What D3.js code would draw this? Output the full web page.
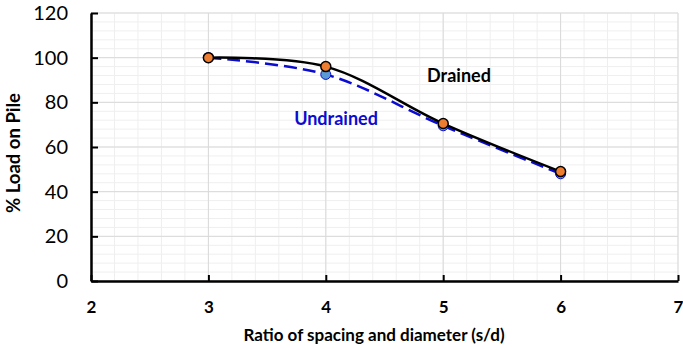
<!DOCTYPE html>
<html lang="en">
<head>
    <meta charset="UTF-8">
    <title>% Load on Pile vs s/d</title>
    <style>
        body { margin: 0; padding: 0; background: #ffffff; }
        svg { display: block; font-family: Lato, "Open Sans", sans-serif; }
    </style>
</head>
<body>
    <svg width="683" height="350"></svg>
    <script src="https://d3js.org/d3.v7.min.js"></script>
    <script>
        // data
        let ratio = [3, 4, 5, 6];
        let drained = [100, 96, 70.5, 49];
        let undrained = [100, 92.5, 69.5, 48];
        let xTicks = [2, 3, 4, 5, 6, 7];
        let yTicks = [0, 20, 40, 60, 80, 100, 120];

        let svg = d3.select("svg");
        let plotLeft = 91, plotRight = 678, plotTop = 13, plotBottom = 281;

        let x = d3.scaleLinear().domain([2, 7]).range([plotLeft, plotRight]);
        let y = d3.scaleLinear().domain([0, 120]).range([plotBottom, plotTop]);

        // minor grid
        let grid = svg.append("g");
        grid.selectAll("line.mx")
            .data(d3.range(2, 7.001, 0.2))
            .enter().append("line")
            .attr("x1", d => x(d)).attr("x2", d => x(d))
            .attr("y1", plotTop).attr("y2", plotBottom)
            .attr("stroke", "#efefef").attr("stroke-width", 1);
        grid.selectAll("line.my")
            .data(d3.range(0, 120.001, 4))
            .enter().append("line")
            .attr("x1", plotLeft).attr("x2", plotRight)
            .attr("y1", d => y(d)).attr("y2", d => y(d))
            .attr("stroke", "#efefef").attr("stroke-width", 1);
        // major grid
        grid.selectAll("line.Mx")
            .data(xTicks)
            .enter().append("line")
            .attr("x1", d => x(d)).attr("x2", d => x(d))
            .attr("y1", plotTop).attr("y2", plotBottom)
            .attr("stroke", "#d9d9d9").attr("stroke-width", 1);
        grid.selectAll("line.My")
            .data(yTicks)
            .enter().append("line")
            .attr("x1", plotLeft).attr("x2", plotRight)
            .attr("y1", d => y(d)).attr("y2", d => y(d))
            .attr("stroke", "#d9d9d9").attr("stroke-width", 1);

        // axes
        let xAxis = svg.append("g")
            .attr("transform", `translate(0,${plotBottom})`)
            .call(d3.axisBottom(x).tickValues(xTicks).tickFormat(d3.format("d"))
                .tickSizeInner(-6).tickSizeOuter(0).tickPadding(20));
        let yAxis = svg.append("g")
            .attr("transform", `translate(${plotLeft},0)`)
            .call(d3.axisLeft(y).tickValues(yTicks).tickFormat(d3.format("d"))
                .tickSizeInner(-7).tickSizeOuter(0).tickPadding(23));
        [xAxis, yAxis].forEach(a => {
            a.select(".domain").attr("stroke", "#000").attr("stroke-width", 2.5);
            a.selectAll(".tick line").attr("stroke", "#000").attr("stroke-width", 2);
        });
        xAxis.selectAll("text")
            .attr("font-family", "Lato, sans-serif")
            .attr("font-size", 17).attr("font-weight", "bold").attr("fill", "#000");
        yAxis.selectAll("text")
            .attr("font-family", "Lato, sans-serif")
            .attr("font-size", 20).attr("fill", "#000");

        // series
        let pts = s => ratio.map((r, i) => [r, s[i]]);
        let line = d3.line()
            .x(d => x(d[0])).y(d => y(d[1]))
            .curve(d3.curveCatmullRom.alpha(0.5));

        svg.append("path")
            .attr("d", line(pts(undrained)))
            .attr("fill", "none").attr("stroke", "#0b0bd1")
            .attr("stroke-width", 2.5).attr("stroke-dasharray", "13,6");
        svg.selectAll("circle.u")
            .data(pts(undrained))
            .enter().append("circle")
            .attr("cx", d => x(d[0])).attr("cy", d => y(d[1]))
            .attr("r", 5).attr("fill", "#5b9bd5")
            .attr("stroke", "#0b0bd1").attr("stroke-width", 1);

        svg.append("path")
            .attr("d", line(pts(drained)))
            .attr("fill", "none").attr("stroke", "#000")
            .attr("stroke-width", 2.5);
        svg.selectAll("circle.d")
            .data(pts(drained))
            .enter().append("circle")
            .attr("cx", d => x(d[0])).attr("cy", d => y(d[1]))
            .attr("r", 5).attr("fill", "#ed7d31")
            .attr("stroke", "#000").attr("stroke-width", 1.5);

        // labels
        svg.append("text")
            .attr("x", 459).attr("y", 82)
            .attr("text-anchor", "middle")
            .attr("font-size", 18).attr("font-weight", "bold")
            .attr("fill", "#000").text("Drained");
        svg.append("text")
            .attr("x", 336).attr("y", 125)
            .attr("text-anchor", "middle")
            .attr("font-size", 18).attr("font-weight", "bold")
            .attr("fill", "#0b0bd1").text("Undrained");

        svg.append("text")
            .attr("transform", "translate(20,153) rotate(-90)")
            .attr("text-anchor", "middle")
            .attr("font-size", 18.5).attr("font-weight", "bold")
            .attr("fill", "#000").text("% Load on Pile");
        svg.append("text")
            .attr("x", 374).attr("y", 341)
            .attr("text-anchor", "middle")
            .attr("font-size", 17).attr("font-weight", "bold")
            .attr("fill", "#000").text("Ratio of spacing and diameter (s/d)");
    </script>
</body>
</html>
